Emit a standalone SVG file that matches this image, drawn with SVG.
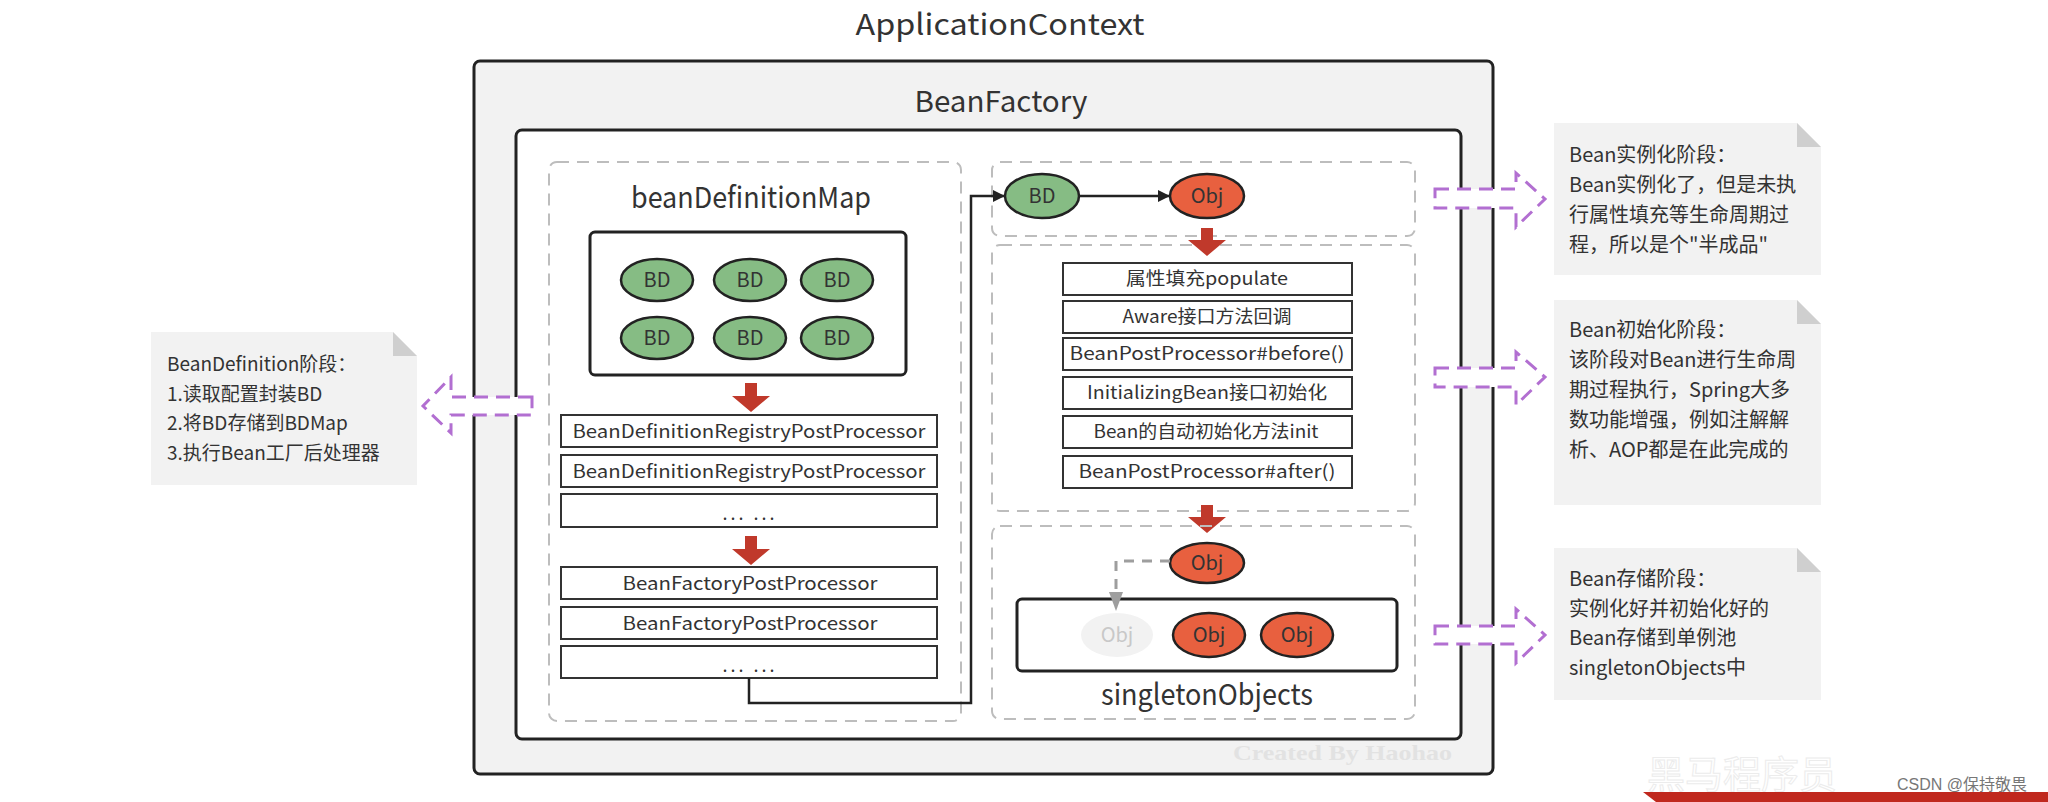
<svg xmlns="http://www.w3.org/2000/svg" width="2048" height="802" viewBox="0 0 2048 802">
<defs>
<style>
text{font-family:"Noto Sans CJK SC","Noto Sans",sans-serif;fill:#333}
.title{font-size:29px;text-anchor:middle}
.lbl{font-size:18px;text-anchor:middle}
.note{font-size:19px}
.rnote{font-size:20px}
.grp{fill:none;stroke:#bdbdbd;stroke-width:2;stroke-dasharray:12 8}
.box{fill:#fff;stroke:#222;stroke-width:3}
.rect{fill:#fff;stroke:#333;stroke-width:2}
.bd{fill:#86bc84;stroke:#222;stroke-width:2.5}
.obj{fill:#e8603f;stroke:#222;stroke-width:2.5}
.et{font-size:20px;text-anchor:middle}
.red{fill:#c0392b}
.purple{fill:#fff;stroke:#b26fd1;stroke-width:3;stroke-dasharray:14 8}
.notebg{fill:#f2f2f2}
.fold{fill:#cfcfcf}
</style>
<marker id="ah" viewBox="0 0 12 12" refX="11" refY="6" markerWidth="12" markerHeight="12" markerUnits="userSpaceOnUse" orient="auto">
<path d="M0,0 L12,6 L0,12 Z" fill="#222"/>
</marker>
</defs>
<rect width="2048" height="802" fill="#fff"/>

<g id="applicationContext">
<text x="1000" y="35" class="title" textLength="289" lengthAdjust="spacingAndGlyphs">ApplicationContext</text>
<rect x="474" y="61" width="1019" height="713" rx="6" fill="#f2f2f2" stroke="#222" stroke-width="3"/>
</g>
<g id="beanFactory">
<text x="1001" y="112" class="title" textLength="173" lengthAdjust="spacingAndGlyphs">BeanFactory</text>
<rect x="516" y="130" width="945" height="609" rx="6" class="box"/>
</g>

<g id="bdStage">
<rect x="549" y="162" width="412" height="559" rx="8" class="grp"/>
<text x="751" y="208" class="title" textLength="240" lengthAdjust="spacingAndGlyphs">beanDefinitionMap</text>
<rect x="590" y="232" width="316" height="143" rx="5" class="box"/>
<ellipse cx="657" cy="280" rx="36" ry="21" class="bd"/><text x="657" y="287" class="et">BD</text>
<ellipse cx="750" cy="280" rx="36" ry="21" class="bd"/><text x="750" y="287" class="et">BD</text>
<ellipse cx="837" cy="280" rx="36" ry="21" class="bd"/><text x="837" y="287" class="et">BD</text>
<ellipse cx="657" cy="338" rx="36" ry="21" class="bd"/><text x="657" y="345" class="et">BD</text>
<ellipse cx="750" cy="338" rx="36" ry="21" class="bd"/><text x="750" y="345" class="et">BD</text>
<ellipse cx="837" cy="338" rx="36" ry="21" class="bd"/><text x="837" y="345" class="et">BD</text>
<path class="red" d="M745,383 H757 V396 H770 L751,412 L732,396 H745 Z"/>
<rect x="561" y="415" width="376" height="32" class="rect"/>
<text x="749" y="438" class="lbl" textLength="353" lengthAdjust="spacingAndGlyphs">BeanDefinitionRegistryPostProcessor</text>
<rect x="561" y="455" width="376" height="32" class="rect"/>
<text x="749" y="478" class="lbl" textLength="353" lengthAdjust="spacingAndGlyphs">BeanDefinitionRegistryPostProcessor</text>
<rect x="561" y="494" width="376" height="33" class="rect"/>
<text x="750" y="520" class="lbl" letter-spacing="3">... ...</text>
<path class="red" d="M745,536 H757 V549 H770 L751,565 L732,549 H745 Z"/>
<rect x="561" y="567" width="376" height="32" class="rect"/>
<text x="750" y="590" class="lbl" textLength="255" lengthAdjust="spacingAndGlyphs">BeanFactoryPostProcessor</text>
<rect x="561" y="607" width="376" height="32" class="rect"/>
<text x="750" y="630" class="lbl" textLength="255" lengthAdjust="spacingAndGlyphs">BeanFactoryPostProcessor</text>
<rect x="561" y="646" width="376" height="32" class="rect"/>
<text x="750" y="672" class="lbl" letter-spacing="3">... ...</text>
</g>

<g id="instantiation">
<rect x="992" y="162" width="423" height="74" rx="8" class="grp"/>
<ellipse cx="1042" cy="196" rx="37" ry="22" class="bd"/><text x="1042" y="203" class="et">BD</text>
<ellipse cx="1207" cy="196" rx="37" ry="22" class="obj"/><text x="1207" y="203" class="et">Obj</text>
</g>

<g id="initialization">
<rect x="992" y="245" width="423" height="266" rx="8" class="grp"/>
<path class="red" d="M1201,228 H1213 V240 H1226 L1207,256 L1188,240 H1201 Z"/>
<rect x="1063" y="263" width="289" height="32" class="rect"/>
<text x="1207" y="285" class="lbl" textLength="162" lengthAdjust="spacingAndGlyphs">属性填充populate</text>
<rect x="1063" y="301" width="289" height="32" class="rect"/>
<text x="1207" y="323" class="lbl" textLength="169" lengthAdjust="spacingAndGlyphs">Aware接口方法回调</text>
<rect x="1063" y="338" width="289" height="32" class="rect"/>
<text x="1207" y="360" class="lbl" textLength="275" lengthAdjust="spacingAndGlyphs">BeanPostProcessor#before()</text>
<rect x="1063" y="377" width="289" height="32" class="rect"/>
<text x="1207" y="399" class="lbl" textLength="240" lengthAdjust="spacingAndGlyphs">InitializingBean接口初始化</text>
<rect x="1063" y="416" width="289" height="32" class="rect"/>
<text x="1206" y="438" class="lbl" textLength="225" lengthAdjust="spacingAndGlyphs">Bean的自动初始化方法init</text>
<rect x="1063" y="456" width="289" height="32" class="rect"/>
<text x="1207" y="478" class="lbl" textLength="257" lengthAdjust="spacingAndGlyphs">BeanPostProcessor#after()</text>
<path class="red" d="M1201,505 H1213 V517 H1226 L1207,533 L1188,517 H1201 Z"/>
</g>

<g id="storage">
<rect x="992" y="526" width="423" height="193" rx="8" class="grp"/>
<ellipse cx="1207" cy="563" rx="37" ry="20" class="obj"/><text x="1207" y="570" class="et">Obj</text>
<rect x="1017" y="599" width="380" height="72" rx="5" class="box"/>
<ellipse cx="1117" cy="635" rx="36" ry="22" fill="#f2f2f2"/><text x="1117" y="642" class="et" style="fill:#c8c8c8">Obj</text>
<ellipse cx="1209" cy="635" rx="36" ry="22" class="obj"/><text x="1209" y="642" class="et">Obj</text>
<ellipse cx="1297" cy="635" rx="36" ry="22" class="obj"/><text x="1297" y="642" class="et">Obj</text>
<text x="1207" y="705" class="title" textLength="212" lengthAdjust="spacingAndGlyphs">singletonObjects</text>
</g>

<g id="connectors">
<path d="M749,678 V703 H971 V196 H1004" fill="none" stroke="#222" stroke-width="2.5" marker-end="url(#ah)"/>
<path d="M1079,196 H1169" fill="none" stroke="#222" stroke-width="2.5" marker-end="url(#ah)"/>
<path d="M1170,561 H1116 V594" fill="none" stroke="#9e9e9e" stroke-width="3" stroke-dasharray="10 8"/>
<path d="M1109,592 H1123 L1116,611 Z" fill="#9e9e9e"/>
<path class="purple" d="M532,397 H451 V377 L423,406 L451,433 V415 H532 Z"/>
<path class="purple" d="M1435,189 H1516 V173 L1545,199 L1516,227 V208 H1435 Z"/>
<path class="purple" d="M1435,368 H1516 V352 L1545,377 L1516,405 V387 H1435 Z"/>
<path class="purple" d="M1435,626 H1516 V609 L1545,635 L1516,663 V644 H1435 Z"/>
</g>

<g id="noteBD">
<path class="notebg" d="M151,332 H393 L417,356 V485 H151 Z"/>
<path class="fold" d="M393,332 L417,356 H393 Z"/>
<text class="note" x="167" y="371">BeanDefinition阶段：</text>
<text class="note" x="167" y="401">1.读取配置封装BD</text>
<text class="note" x="167" y="430">2.将BD存储到BDMap</text>
<text class="note" x="167" y="460">3.执行Bean工厂后处理器</text>
</g>
<g id="noteInst">
<path class="notebg" d="M1554,123 H1797 L1821,147 V275 H1554 Z"/>
<path class="fold" d="M1797,123 L1821,147 H1797 Z"/>
<text class="rnote" x="1569" y="162">Bean实例化阶段：</text>
<text class="rnote" x="1569" y="192">Bean实例化了，但是未执</text>
<text class="rnote" x="1569" y="222">行属性填充等生命周期过</text>
<text class="rnote" x="1569" y="252">程，所以是个"半成品"</text>
</g>
<g id="noteInit">
<path class="notebg" d="M1554,300 H1797 L1821,324 V505 H1554 Z"/>
<path class="fold" d="M1797,300 L1821,324 H1797 Z"/>
<text class="rnote" x="1569" y="337">Bean初始化阶段：</text>
<text class="rnote" x="1569" y="367">该阶段对Bean进行生命周</text>
<text class="rnote" x="1569" y="397">期过程执行，Spring大多</text>
<text class="rnote" x="1569" y="427">数功能增强，例如注解解</text>
<text class="rnote" x="1569" y="457">析、AOP都是在此完成的</text>
</g>
<g id="noteStore">
<path class="notebg" d="M1554,548 H1797 L1821,572 V700 H1554 Z"/>
<path class="fold" d="M1797,548 L1821,572 H1797 Z"/>
<text class="rnote" x="1569" y="586">Bean存储阶段：</text>
<text class="rnote" x="1569" y="616">实例化好并初始化好的</text>
<text class="rnote" x="1569" y="645">Bean存储到单例池</text>
<text class="rnote" x="1569" y="675">singletonObjects中</text>
</g>

<g id="watermarks">
<text x="1233" y="760" style="font-family:'Liberation Serif',serif;font-weight:bold;font-size:22px;fill:#e2e2e2" textLength="219" lengthAdjust="spacingAndGlyphs">Created By Haohao</text>
<text x="1647" y="788" style="font-size:38px;fill:#fff;stroke:#ececec;stroke-width:1">黑马程序员</text>
<path d="M1656,802 L1643,792 H2048 V802 Z" fill="#c0281e"/>
<text x="1897" y="790" style="font-family:'Liberation Sans','Noto Sans CJK SC',sans-serif;font-size:16px;fill:#777">CSDN @保持敬畏</text>
</g>
</svg>
